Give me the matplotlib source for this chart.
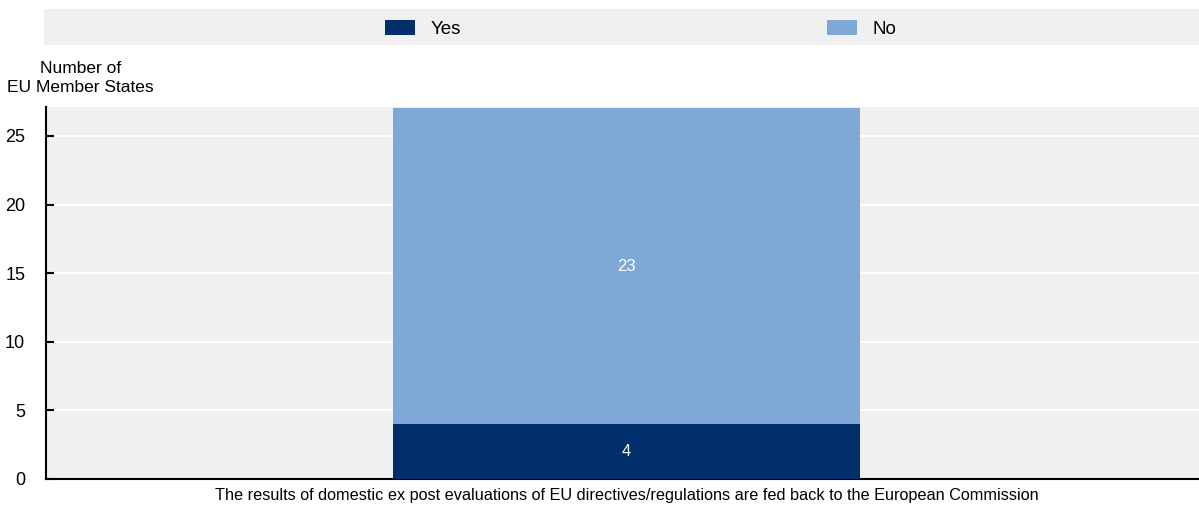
import matplotlib.pyplot as plt
from matplotlib.patches import Rectangle

plt.rcParams['font.family'] = ['Liberation Sans Narrow', 'Liberation Sans', 'DejaVu Sans']
plt.rcParams['font.size'] = 13

categories = ['The results of domestic ex post evaluations of EU directives/regulations are fed back to the European Commission']
yes_values = [4]
no_values = [23]
series_names = ['Yes', 'No']
y_ticks = [0, 5, 10, 15, 20, 25]

COLOR_YES = '#002f6c'
COLOR_NO = '#7fa8d9'
BG = '#f0f0f0'

fig = plt.figure(figsize=(11.99, 5.05), dpi=100)
ax = fig.add_axes([0.0384, 0.0515, 0.9616, 0.7365])
ax.set_facecolor(BG)

x = list(range(len(categories)))
bars_yes = ax.bar(x, yes_values, width=0.405, color=COLOR_YES, label=series_names[0], zorder=3)
bars_no = ax.bar(x, no_values, width=0.405, bottom=yes_values, color=COLOR_NO,
                 label=series_names[1], zorder=3)

for rect, v in zip(bars_yes, yes_values):
    ax.text(rect.get_x() + rect.get_width() / 2, rect.get_y() + rect.get_height() / 2,
            str(v), ha='center', va='center', color='white', fontsize=12, zorder=4)
for rect, v in zip(bars_no, no_values):
    ax.text(rect.get_x() + rect.get_width() / 2, rect.get_y() + rect.get_height() / 2,
            str(v), ha='center', va='center', color='white', fontsize=12, zorder=4)

ax.set_xlim(-0.5035, 0.4965)
ax.set_ylim(0, 27.1)
ax.set_yticks(y_ticks)
ax.set_xticks(x)
ax.set_xticklabels(categories, fontsize=11.7)
ax.yaxis.grid(True, color='white', linewidth=1.5, zorder=1)
ax.set_axisbelow(True)
ax.tick_params(axis='x', length=0, pad=6.5)
ax.tick_params(axis='y', direction='in', length=6, width=1.5, pad=15)
for side in ('top', 'right'):
    ax.spines[side].set_visible(False)
for side in ('left', 'bottom'):
    ax.spines[side].set_linewidth(1.5)
    ax.spines[side].set_color('black')

# legend band
fig.patches.append(Rectangle((0.0367, 0.911), 0.9633, 0.0713, transform=fig.transFigure,
                             facecolor=BG, edgecolor='none', zorder=0))
fig.legend(handles=[bars_yes, bars_no], labels=series_names, loc='center',
           bbox_to_anchor=(0.5345, 0.943), ncol=2, frameon=False, fontsize=13.5,
           handlelength=1.6, handleheight=0.85, handletextpad=0.85, columnspacing=19.5)

fig.text(0.067, 0.846, 'Number of\nEU Member States', ha='center', va='center',
         fontsize=12.5, linespacing=1.3)

fig.savefig('out.png', dpi=100)
